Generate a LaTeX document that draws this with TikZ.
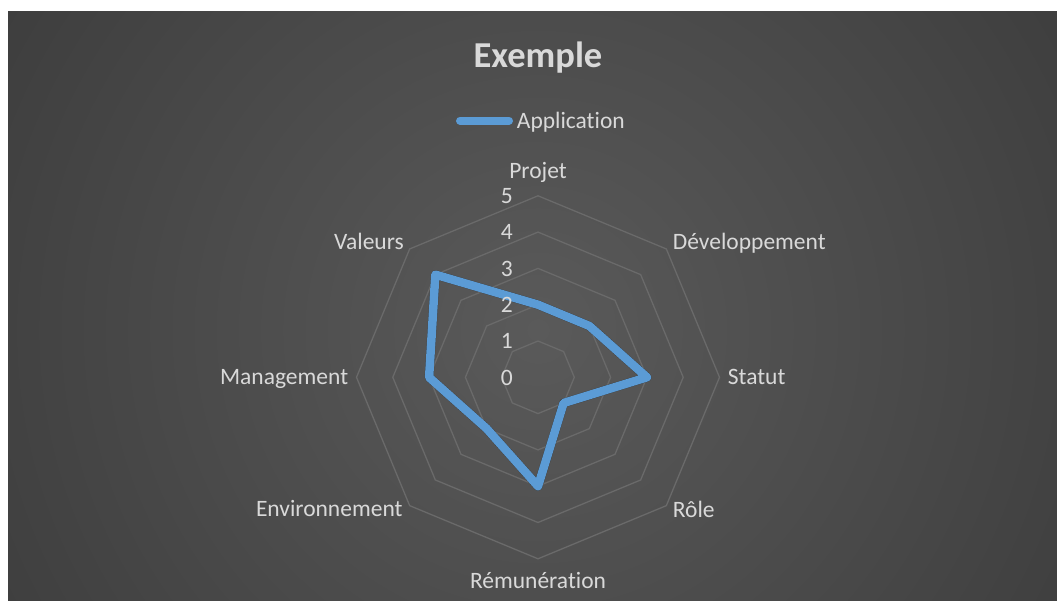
\documentclass[tikz,border=0pt]{standalone}
\usepackage{fontspec}
\setmainfont[Ligatures=NoCommon]{Carlito}
\definecolor{bgin}{HTML}{5A5A5A}
\definecolor{bgout}{HTML}{232323}
\definecolor{txt}{HTML}{D9D9D9}
\definecolor{gridc}{HTML}{6A6A6A}
\definecolor{serie}{HTML}{5B9BD5}
\tikzset{
  axislabel/.style={text=txt, inner sep=0pt, font=\fontsize{23.5}{28}\selectfont},
  ticklabel/.style={text=txt, inner sep=0pt, anchor=base east, font=\fontsize{23.5}{28}\selectfont},
  gridline/.style={draw=gridc, line width=1.3pt},
  seriesline/.style={draw=serie, line width=8.5pt, line join=round, line cap=round},
  shadowline/.style={draw=black, opacity=0.35, line width=9pt, line join=round, line cap=round},
}
\begin{document}
\begin{tikzpicture}[x=1pt,y=-1pt]
\useasboundingbox (0,0) rectangle (1057,601);
\fill[white] (0,0) rectangle (1057,601);
\begin{scope}
  \clip (8,12) rectangle (1057,601);
  \shade[inner color=bgin, outer color=bgout] (538,330) circle (1220);
\end{scope}
% title and legend
\node[text=txt, inner sep=0pt, anchor=base, font=\fontsize{36.5}{42}\selectfont\bfseries] (title) at (538,67.5) {Exemple};
\coordinate (legA) at (460,120.7);
\coordinate (legB) at (509,120.7);
\draw[seriesline, line width=8pt] (legA) -- (legB);
\node[axislabel, anchor=base west] (legtext) at (516.7,128.3) {Application};
% radar grid
\begin{scope}[shift={(538,377.3)}, yscale=-1]
  \coordinate (c) at (0,0);
  \foreach \r in {1,...,5} {
    \draw[gridline] (90:36.3*\r) -- (45:36.3*\r) -- (0:36.3*\r) -- (-45:36.3*\r)
      -- (-90:36.3*\r) -- (-135:36.3*\r) -- (180:36.3*\r) -- (135:36.3*\r) -- cycle;
  }
  % data points
  \coordinate (p1) at (90:36.3*2);
  \coordinate (p2) at (45:36.3*2);
  \coordinate (p3) at (0:36.3*3);
  \coordinate (p4) at (-45:36.3*1);
  \coordinate (p5) at (-90:36.3*3);
  \coordinate (p6) at (-135:36.3*2);
  \coordinate (p7) at (180:36.3*3);
  \coordinate (p8) at (135:36.3*4);
  \begin{scope}[shift={(1.5,-2)}]
    \draw[shadowline] (p1) -- (p2) -- (p3) -- (p4) -- (p5) -- (p6) -- (p7) -- (p8) -- cycle;
  \end{scope}
  \draw[seriesline] (p1) -- (p2) -- (p3) -- (p4) -- (p5) -- (p6) -- (p7) -- (p8) -- cycle;
\end{scope}
% tick labels
\foreach \v in {0,...,5} {
  \node[ticklabel] (t\v) at (513, 377.3-36.3*\v+7.7) {\v};
}
% axis labels
\node[axislabel, anchor=base] (lProjet) at (538,178.3) {Projet};
\node[axislabel, anchor=base west] (lDev) at (672.7,249.3) {Développement};
\node[axislabel, anchor=base west] (lStatut) at (727.7,384) {Statut};
\node[axislabel, anchor=base west] (lRole) at (672.7,517.3) {Rôle};
\node[axislabel, anchor=base] (lRem) at (538,588.3) {Rémunération};
\node[axislabel, anchor=base east] (lEnv) at (402.7,516.7) {Environnement};
\node[axislabel, anchor=base east] (lMan) at (348.3,384) {Management};
\node[axislabel, anchor=base east] (lVal) at (404,250) {Valeurs};
\end{tikzpicture}
\end{document}
